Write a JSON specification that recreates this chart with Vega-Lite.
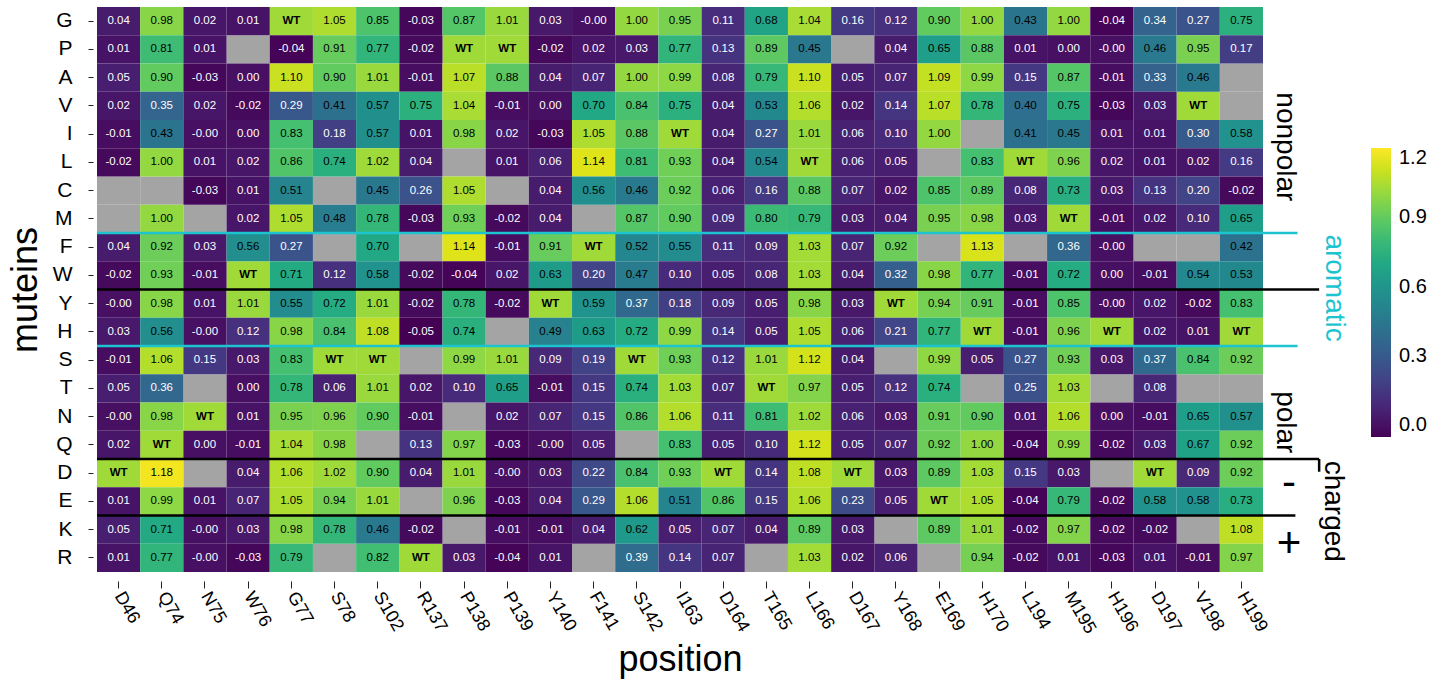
{
"$schema": "https://vega.github.io/schema/vega-lite/v6.json",
"autosize": "none",
"width": 1166,
"height": 565,
"padding": {"left": 97, "top": 7, "right": 179, "bottom": 109},
"background": "white",
"config": {"view": {"stroke": null}, "font": "Liberation Sans"},
"datasets": {
"cells": [
{"m":"G","p":"D46","v":0.04,"t":"0.04"},{"m":"G","p":"Q74","v":0.98,"t":"0.98"},{"m":"G","p":"N75","v":0.02,"t":"0.02"},{"m":"G","p":"W76","v":0.01,"t":"0.01"},{"m":"G","p":"G77","v":null,"t":"WT"},{"m":"G","p":"S78","v":1.05,"t":"1.05"},{"m":"G","p":"S102","v":0.85,"t":"0.85"},{"m":"G","p":"R137","v":-0.03,"t":"-0.03"},{"m":"G","p":"P138","v":0.87,"t":"0.87"},{"m":"G","p":"P139","v":1.01,"t":"1.01"},{"m":"G","p":"Y140","v":0.03,"t":"0.03"},{"m":"G","p":"F141","v":-0.0,"t":"-0.00"},{"m":"G","p":"S142","v":1.0,"t":"1.00"},{"m":"G","p":"I163","v":0.95,"t":"0.95"},{"m":"G","p":"D164","v":0.11,"t":"0.11"},{"m":"G","p":"T165","v":0.68,"t":"0.68"},{"m":"G","p":"L166","v":1.04,"t":"1.04"},{"m":"G","p":"D167","v":0.16,"t":"0.16"},{"m":"G","p":"Y168","v":0.12,"t":"0.12"},{"m":"G","p":"E169","v":0.9,"t":"0.90"},{"m":"G","p":"H170","v":1.0,"t":"1.00"},{"m":"G","p":"L194","v":0.43,"t":"0.43"},{"m":"G","p":"M195","v":1.0,"t":"1.00"},{"m":"G","p":"H196","v":-0.04,"t":"-0.04"},{"m":"G","p":"D197","v":0.34,"t":"0.34"},{"m":"G","p":"V198","v":0.27,"t":"0.27"},{"m":"G","p":"H199","v":0.75,"t":"0.75"},
{"m":"P","p":"D46","v":0.01,"t":"0.01"},{"m":"P","p":"Q74","v":0.81,"t":"0.81"},{"m":"P","p":"N75","v":0.01,"t":"0.01"},{"m":"P","p":"W76","v":null,"t":""},{"m":"P","p":"G77","v":-0.04,"t":"-0.04"},{"m":"P","p":"S78","v":0.91,"t":"0.91"},{"m":"P","p":"S102","v":0.77,"t":"0.77"},{"m":"P","p":"R137","v":-0.02,"t":"-0.02"},{"m":"P","p":"P138","v":null,"t":"WT"},{"m":"P","p":"P139","v":null,"t":"WT"},{"m":"P","p":"Y140","v":-0.02,"t":"-0.02"},{"m":"P","p":"F141","v":0.02,"t":"0.02"},{"m":"P","p":"S142","v":0.03,"t":"0.03"},{"m":"P","p":"I163","v":0.77,"t":"0.77"},{"m":"P","p":"D164","v":0.13,"t":"0.13"},{"m":"P","p":"T165","v":0.89,"t":"0.89"},{"m":"P","p":"L166","v":0.45,"t":"0.45"},{"m":"P","p":"D167","v":null,"t":""},{"m":"P","p":"Y168","v":0.04,"t":"0.04"},{"m":"P","p":"E169","v":0.65,"t":"0.65"},{"m":"P","p":"H170","v":0.88,"t":"0.88"},{"m":"P","p":"L194","v":0.01,"t":"0.01"},{"m":"P","p":"M195","v":0.0,"t":"0.00"},{"m":"P","p":"H196","v":-0.0,"t":"-0.00"},{"m":"P","p":"D197","v":0.46,"t":"0.46"},{"m":"P","p":"V198","v":0.95,"t":"0.95"},{"m":"P","p":"H199","v":0.17,"t":"0.17"},
{"m":"A","p":"D46","v":0.05,"t":"0.05"},{"m":"A","p":"Q74","v":0.9,"t":"0.90"},{"m":"A","p":"N75","v":-0.03,"t":"-0.03"},{"m":"A","p":"W76","v":0.0,"t":"0.00"},{"m":"A","p":"G77","v":1.1,"t":"1.10"},{"m":"A","p":"S78","v":0.9,"t":"0.90"},{"m":"A","p":"S102","v":1.01,"t":"1.01"},{"m":"A","p":"R137","v":-0.01,"t":"-0.01"},{"m":"A","p":"P138","v":1.07,"t":"1.07"},{"m":"A","p":"P139","v":0.88,"t":"0.88"},{"m":"A","p":"Y140","v":0.04,"t":"0.04"},{"m":"A","p":"F141","v":0.07,"t":"0.07"},{"m":"A","p":"S142","v":1.0,"t":"1.00"},{"m":"A","p":"I163","v":0.99,"t":"0.99"},{"m":"A","p":"D164","v":0.08,"t":"0.08"},{"m":"A","p":"T165","v":0.79,"t":"0.79"},{"m":"A","p":"L166","v":1.1,"t":"1.10"},{"m":"A","p":"D167","v":0.05,"t":"0.05"},{"m":"A","p":"Y168","v":0.07,"t":"0.07"},{"m":"A","p":"E169","v":1.09,"t":"1.09"},{"m":"A","p":"H170","v":0.99,"t":"0.99"},{"m":"A","p":"L194","v":0.15,"t":"0.15"},{"m":"A","p":"M195","v":0.87,"t":"0.87"},{"m":"A","p":"H196","v":-0.01,"t":"-0.01"},{"m":"A","p":"D197","v":0.33,"t":"0.33"},{"m":"A","p":"V198","v":0.46,"t":"0.46"},{"m":"A","p":"H199","v":null,"t":""},
{"m":"V","p":"D46","v":0.02,"t":"0.02"},{"m":"V","p":"Q74","v":0.35,"t":"0.35"},{"m":"V","p":"N75","v":0.02,"t":"0.02"},{"m":"V","p":"W76","v":-0.02,"t":"-0.02"},{"m":"V","p":"G77","v":0.29,"t":"0.29"},{"m":"V","p":"S78","v":0.41,"t":"0.41"},{"m":"V","p":"S102","v":0.57,"t":"0.57"},{"m":"V","p":"R137","v":0.75,"t":"0.75"},{"m":"V","p":"P138","v":1.04,"t":"1.04"},{"m":"V","p":"P139","v":-0.01,"t":"-0.01"},{"m":"V","p":"Y140","v":0.0,"t":"0.00"},{"m":"V","p":"F141","v":0.7,"t":"0.70"},{"m":"V","p":"S142","v":0.84,"t":"0.84"},{"m":"V","p":"I163","v":0.75,"t":"0.75"},{"m":"V","p":"D164","v":0.04,"t":"0.04"},{"m":"V","p":"T165","v":0.53,"t":"0.53"},{"m":"V","p":"L166","v":1.06,"t":"1.06"},{"m":"V","p":"D167","v":0.02,"t":"0.02"},{"m":"V","p":"Y168","v":0.14,"t":"0.14"},{"m":"V","p":"E169","v":1.07,"t":"1.07"},{"m":"V","p":"H170","v":0.78,"t":"0.78"},{"m":"V","p":"L194","v":0.4,"t":"0.40"},{"m":"V","p":"M195","v":0.75,"t":"0.75"},{"m":"V","p":"H196","v":-0.03,"t":"-0.03"},{"m":"V","p":"D197","v":0.03,"t":"0.03"},{"m":"V","p":"V198","v":null,"t":"WT"},{"m":"V","p":"H199","v":null,"t":""},
{"m":"I","p":"D46","v":-0.01,"t":"-0.01"},{"m":"I","p":"Q74","v":0.43,"t":"0.43"},{"m":"I","p":"N75","v":-0.0,"t":"-0.00"},{"m":"I","p":"W76","v":0.0,"t":"0.00"},{"m":"I","p":"G77","v":0.83,"t":"0.83"},{"m":"I","p":"S78","v":0.18,"t":"0.18"},{"m":"I","p":"S102","v":0.57,"t":"0.57"},{"m":"I","p":"R137","v":0.01,"t":"0.01"},{"m":"I","p":"P138","v":0.98,"t":"0.98"},{"m":"I","p":"P139","v":0.02,"t":"0.02"},{"m":"I","p":"Y140","v":-0.03,"t":"-0.03"},{"m":"I","p":"F141","v":1.05,"t":"1.05"},{"m":"I","p":"S142","v":0.88,"t":"0.88"},{"m":"I","p":"I163","v":null,"t":"WT"},{"m":"I","p":"D164","v":0.04,"t":"0.04"},{"m":"I","p":"T165","v":0.27,"t":"0.27"},{"m":"I","p":"L166","v":1.01,"t":"1.01"},{"m":"I","p":"D167","v":0.06,"t":"0.06"},{"m":"I","p":"Y168","v":0.1,"t":"0.10"},{"m":"I","p":"E169","v":1.0,"t":"1.00"},{"m":"I","p":"H170","v":null,"t":""},{"m":"I","p":"L194","v":0.41,"t":"0.41"},{"m":"I","p":"M195","v":0.45,"t":"0.45"},{"m":"I","p":"H196","v":0.01,"t":"0.01"},{"m":"I","p":"D197","v":0.01,"t":"0.01"},{"m":"I","p":"V198","v":0.3,"t":"0.30"},{"m":"I","p":"H199","v":0.58,"t":"0.58"},
{"m":"L","p":"D46","v":-0.02,"t":"-0.02"},{"m":"L","p":"Q74","v":1.0,"t":"1.00"},{"m":"L","p":"N75","v":0.01,"t":"0.01"},{"m":"L","p":"W76","v":0.02,"t":"0.02"},{"m":"L","p":"G77","v":0.86,"t":"0.86"},{"m":"L","p":"S78","v":0.74,"t":"0.74"},{"m":"L","p":"S102","v":1.02,"t":"1.02"},{"m":"L","p":"R137","v":0.04,"t":"0.04"},{"m":"L","p":"P138","v":null,"t":""},{"m":"L","p":"P139","v":0.01,"t":"0.01"},{"m":"L","p":"Y140","v":0.06,"t":"0.06"},{"m":"L","p":"F141","v":1.14,"t":"1.14"},{"m":"L","p":"S142","v":0.81,"t":"0.81"},{"m":"L","p":"I163","v":0.93,"t":"0.93"},{"m":"L","p":"D164","v":0.04,"t":"0.04"},{"m":"L","p":"T165","v":0.54,"t":"0.54"},{"m":"L","p":"L166","v":null,"t":"WT"},{"m":"L","p":"D167","v":0.06,"t":"0.06"},{"m":"L","p":"Y168","v":0.05,"t":"0.05"},{"m":"L","p":"E169","v":null,"t":""},{"m":"L","p":"H170","v":0.83,"t":"0.83"},{"m":"L","p":"L194","v":null,"t":"WT"},{"m":"L","p":"M195","v":0.96,"t":"0.96"},{"m":"L","p":"H196","v":0.02,"t":"0.02"},{"m":"L","p":"D197","v":0.01,"t":"0.01"},{"m":"L","p":"V198","v":0.02,"t":"0.02"},{"m":"L","p":"H199","v":0.16,"t":"0.16"},
{"m":"C","p":"D46","v":null,"t":""},{"m":"C","p":"Q74","v":null,"t":""},{"m":"C","p":"N75","v":-0.03,"t":"-0.03"},{"m":"C","p":"W76","v":0.01,"t":"0.01"},{"m":"C","p":"G77","v":0.51,"t":"0.51"},{"m":"C","p":"S78","v":null,"t":""},{"m":"C","p":"S102","v":0.45,"t":"0.45"},{"m":"C","p":"R137","v":0.26,"t":"0.26"},{"m":"C","p":"P138","v":1.05,"t":"1.05"},{"m":"C","p":"P139","v":null,"t":""},{"m":"C","p":"Y140","v":0.04,"t":"0.04"},{"m":"C","p":"F141","v":0.56,"t":"0.56"},{"m":"C","p":"S142","v":0.46,"t":"0.46"},{"m":"C","p":"I163","v":0.92,"t":"0.92"},{"m":"C","p":"D164","v":0.06,"t":"0.06"},{"m":"C","p":"T165","v":0.16,"t":"0.16"},{"m":"C","p":"L166","v":0.88,"t":"0.88"},{"m":"C","p":"D167","v":0.07,"t":"0.07"},{"m":"C","p":"Y168","v":0.02,"t":"0.02"},{"m":"C","p":"E169","v":0.85,"t":"0.85"},{"m":"C","p":"H170","v":0.89,"t":"0.89"},{"m":"C","p":"L194","v":0.08,"t":"0.08"},{"m":"C","p":"M195","v":0.73,"t":"0.73"},{"m":"C","p":"H196","v":0.03,"t":"0.03"},{"m":"C","p":"D197","v":0.13,"t":"0.13"},{"m":"C","p":"V198","v":0.2,"t":"0.20"},{"m":"C","p":"H199","v":-0.02,"t":"-0.02"},
{"m":"M","p":"D46","v":null,"t":""},{"m":"M","p":"Q74","v":1.0,"t":"1.00"},{"m":"M","p":"N75","v":null,"t":""},{"m":"M","p":"W76","v":0.02,"t":"0.02"},{"m":"M","p":"G77","v":1.05,"t":"1.05"},{"m":"M","p":"S78","v":0.48,"t":"0.48"},{"m":"M","p":"S102","v":0.78,"t":"0.78"},{"m":"M","p":"R137","v":-0.03,"t":"-0.03"},{"m":"M","p":"P138","v":0.93,"t":"0.93"},{"m":"M","p":"P139","v":-0.02,"t":"-0.02"},{"m":"M","p":"Y140","v":0.04,"t":"0.04"},{"m":"M","p":"F141","v":null,"t":""},{"m":"M","p":"S142","v":0.87,"t":"0.87"},{"m":"M","p":"I163","v":0.9,"t":"0.90"},{"m":"M","p":"D164","v":0.09,"t":"0.09"},{"m":"M","p":"T165","v":0.8,"t":"0.80"},{"m":"M","p":"L166","v":0.79,"t":"0.79"},{"m":"M","p":"D167","v":0.03,"t":"0.03"},{"m":"M","p":"Y168","v":0.04,"t":"0.04"},{"m":"M","p":"E169","v":0.95,"t":"0.95"},{"m":"M","p":"H170","v":0.98,"t":"0.98"},{"m":"M","p":"L194","v":0.03,"t":"0.03"},{"m":"M","p":"M195","v":null,"t":"WT"},{"m":"M","p":"H196","v":-0.01,"t":"-0.01"},{"m":"M","p":"D197","v":0.02,"t":"0.02"},{"m":"M","p":"V198","v":0.1,"t":"0.10"},{"m":"M","p":"H199","v":0.65,"t":"0.65"},
{"m":"F","p":"D46","v":0.04,"t":"0.04"},{"m":"F","p":"Q74","v":0.92,"t":"0.92"},{"m":"F","p":"N75","v":0.03,"t":"0.03"},{"m":"F","p":"W76","v":0.56,"t":"0.56"},{"m":"F","p":"G77","v":0.27,"t":"0.27"},{"m":"F","p":"S78","v":null,"t":""},{"m":"F","p":"S102","v":0.7,"t":"0.70"},{"m":"F","p":"R137","v":null,"t":""},{"m":"F","p":"P138","v":1.14,"t":"1.14"},{"m":"F","p":"P139","v":-0.01,"t":"-0.01"},{"m":"F","p":"Y140","v":0.91,"t":"0.91"},{"m":"F","p":"F141","v":null,"t":"WT"},{"m":"F","p":"S142","v":0.52,"t":"0.52"},{"m":"F","p":"I163","v":0.55,"t":"0.55"},{"m":"F","p":"D164","v":0.11,"t":"0.11"},{"m":"F","p":"T165","v":0.09,"t":"0.09"},{"m":"F","p":"L166","v":1.03,"t":"1.03"},{"m":"F","p":"D167","v":0.07,"t":"0.07"},{"m":"F","p":"Y168","v":0.92,"t":"0.92"},{"m":"F","p":"E169","v":null,"t":""},{"m":"F","p":"H170","v":1.13,"t":"1.13"},{"m":"F","p":"L194","v":null,"t":""},{"m":"F","p":"M195","v":0.36,"t":"0.36"},{"m":"F","p":"H196","v":-0.0,"t":"-0.00"},{"m":"F","p":"D197","v":null,"t":""},{"m":"F","p":"V198","v":null,"t":""},{"m":"F","p":"H199","v":0.42,"t":"0.42"},
{"m":"W","p":"D46","v":-0.02,"t":"-0.02"},{"m":"W","p":"Q74","v":0.93,"t":"0.93"},{"m":"W","p":"N75","v":-0.01,"t":"-0.01"},{"m":"W","p":"W76","v":null,"t":"WT"},{"m":"W","p":"G77","v":0.71,"t":"0.71"},{"m":"W","p":"S78","v":0.12,"t":"0.12"},{"m":"W","p":"S102","v":0.58,"t":"0.58"},{"m":"W","p":"R137","v":-0.02,"t":"-0.02"},{"m":"W","p":"P138","v":-0.04,"t":"-0.04"},{"m":"W","p":"P139","v":0.02,"t":"0.02"},{"m":"W","p":"Y140","v":0.63,"t":"0.63"},{"m":"W","p":"F141","v":0.2,"t":"0.20"},{"m":"W","p":"S142","v":0.47,"t":"0.47"},{"m":"W","p":"I163","v":0.1,"t":"0.10"},{"m":"W","p":"D164","v":0.05,"t":"0.05"},{"m":"W","p":"T165","v":0.08,"t":"0.08"},{"m":"W","p":"L166","v":1.03,"t":"1.03"},{"m":"W","p":"D167","v":0.04,"t":"0.04"},{"m":"W","p":"Y168","v":0.32,"t":"0.32"},{"m":"W","p":"E169","v":0.98,"t":"0.98"},{"m":"W","p":"H170","v":0.77,"t":"0.77"},{"m":"W","p":"L194","v":-0.01,"t":"-0.01"},{"m":"W","p":"M195","v":0.72,"t":"0.72"},{"m":"W","p":"H196","v":0.0,"t":"0.00"},{"m":"W","p":"D197","v":-0.01,"t":"-0.01"},{"m":"W","p":"V198","v":0.54,"t":"0.54"},{"m":"W","p":"H199","v":0.53,"t":"0.53"},
{"m":"Y","p":"D46","v":-0.0,"t":"-0.00"},{"m":"Y","p":"Q74","v":0.98,"t":"0.98"},{"m":"Y","p":"N75","v":0.01,"t":"0.01"},{"m":"Y","p":"W76","v":1.01,"t":"1.01"},{"m":"Y","p":"G77","v":0.55,"t":"0.55"},{"m":"Y","p":"S78","v":0.72,"t":"0.72"},{"m":"Y","p":"S102","v":1.01,"t":"1.01"},{"m":"Y","p":"R137","v":-0.02,"t":"-0.02"},{"m":"Y","p":"P138","v":0.78,"t":"0.78"},{"m":"Y","p":"P139","v":-0.02,"t":"-0.02"},{"m":"Y","p":"Y140","v":null,"t":"WT"},{"m":"Y","p":"F141","v":0.59,"t":"0.59"},{"m":"Y","p":"S142","v":0.37,"t":"0.37"},{"m":"Y","p":"I163","v":0.18,"t":"0.18"},{"m":"Y","p":"D164","v":0.09,"t":"0.09"},{"m":"Y","p":"T165","v":0.05,"t":"0.05"},{"m":"Y","p":"L166","v":0.98,"t":"0.98"},{"m":"Y","p":"D167","v":0.03,"t":"0.03"},{"m":"Y","p":"Y168","v":null,"t":"WT"},{"m":"Y","p":"E169","v":0.94,"t":"0.94"},{"m":"Y","p":"H170","v":0.91,"t":"0.91"},{"m":"Y","p":"L194","v":-0.01,"t":"-0.01"},{"m":"Y","p":"M195","v":0.85,"t":"0.85"},{"m":"Y","p":"H196","v":-0.0,"t":"-0.00"},{"m":"Y","p":"D197","v":0.02,"t":"0.02"},{"m":"Y","p":"V198","v":-0.02,"t":"-0.02"},{"m":"Y","p":"H199","v":0.83,"t":"0.83"},
{"m":"H","p":"D46","v":0.03,"t":"0.03"},{"m":"H","p":"Q74","v":0.56,"t":"0.56"},{"m":"H","p":"N75","v":-0.0,"t":"-0.00"},{"m":"H","p":"W76","v":0.12,"t":"0.12"},{"m":"H","p":"G77","v":0.98,"t":"0.98"},{"m":"H","p":"S78","v":0.84,"t":"0.84"},{"m":"H","p":"S102","v":1.08,"t":"1.08"},{"m":"H","p":"R137","v":-0.05,"t":"-0.05"},{"m":"H","p":"P138","v":0.74,"t":"0.74"},{"m":"H","p":"P139","v":null,"t":""},{"m":"H","p":"Y140","v":0.49,"t":"0.49"},{"m":"H","p":"F141","v":0.63,"t":"0.63"},{"m":"H","p":"S142","v":0.72,"t":"0.72"},{"m":"H","p":"I163","v":0.99,"t":"0.99"},{"m":"H","p":"D164","v":0.14,"t":"0.14"},{"m":"H","p":"T165","v":0.05,"t":"0.05"},{"m":"H","p":"L166","v":1.05,"t":"1.05"},{"m":"H","p":"D167","v":0.06,"t":"0.06"},{"m":"H","p":"Y168","v":0.21,"t":"0.21"},{"m":"H","p":"E169","v":0.77,"t":"0.77"},{"m":"H","p":"H170","v":null,"t":"WT"},{"m":"H","p":"L194","v":-0.01,"t":"-0.01"},{"m":"H","p":"M195","v":0.96,"t":"0.96"},{"m":"H","p":"H196","v":null,"t":"WT"},{"m":"H","p":"D197","v":0.02,"t":"0.02"},{"m":"H","p":"V198","v":0.01,"t":"0.01"},{"m":"H","p":"H199","v":null,"t":"WT"},
{"m":"S","p":"D46","v":-0.01,"t":"-0.01"},{"m":"S","p":"Q74","v":1.06,"t":"1.06"},{"m":"S","p":"N75","v":0.15,"t":"0.15"},{"m":"S","p":"W76","v":0.03,"t":"0.03"},{"m":"S","p":"G77","v":0.83,"t":"0.83"},{"m":"S","p":"S78","v":null,"t":"WT"},{"m":"S","p":"S102","v":null,"t":"WT"},{"m":"S","p":"R137","v":null,"t":""},{"m":"S","p":"P138","v":0.99,"t":"0.99"},{"m":"S","p":"P139","v":1.01,"t":"1.01"},{"m":"S","p":"Y140","v":0.09,"t":"0.09"},{"m":"S","p":"F141","v":0.19,"t":"0.19"},{"m":"S","p":"S142","v":null,"t":"WT"},{"m":"S","p":"I163","v":0.93,"t":"0.93"},{"m":"S","p":"D164","v":0.12,"t":"0.12"},{"m":"S","p":"T165","v":1.01,"t":"1.01"},{"m":"S","p":"L166","v":1.12,"t":"1.12"},{"m":"S","p":"D167","v":0.04,"t":"0.04"},{"m":"S","p":"Y168","v":null,"t":""},{"m":"S","p":"E169","v":0.99,"t":"0.99"},{"m":"S","p":"H170","v":0.05,"t":"0.05"},{"m":"S","p":"L194","v":0.27,"t":"0.27"},{"m":"S","p":"M195","v":0.93,"t":"0.93"},{"m":"S","p":"H196","v":0.03,"t":"0.03"},{"m":"S","p":"D197","v":0.37,"t":"0.37"},{"m":"S","p":"V198","v":0.84,"t":"0.84"},{"m":"S","p":"H199","v":0.92,"t":"0.92"},
{"m":"T","p":"D46","v":0.05,"t":"0.05"},{"m":"T","p":"Q74","v":0.36,"t":"0.36"},{"m":"T","p":"N75","v":null,"t":""},{"m":"T","p":"W76","v":0.0,"t":"0.00"},{"m":"T","p":"G77","v":0.78,"t":"0.78"},{"m":"T","p":"S78","v":0.06,"t":"0.06"},{"m":"T","p":"S102","v":1.01,"t":"1.01"},{"m":"T","p":"R137","v":0.02,"t":"0.02"},{"m":"T","p":"P138","v":0.1,"t":"0.10"},{"m":"T","p":"P139","v":0.65,"t":"0.65"},{"m":"T","p":"Y140","v":-0.01,"t":"-0.01"},{"m":"T","p":"F141","v":0.15,"t":"0.15"},{"m":"T","p":"S142","v":0.74,"t":"0.74"},{"m":"T","p":"I163","v":1.03,"t":"1.03"},{"m":"T","p":"D164","v":0.07,"t":"0.07"},{"m":"T","p":"T165","v":null,"t":"WT"},{"m":"T","p":"L166","v":0.97,"t":"0.97"},{"m":"T","p":"D167","v":0.05,"t":"0.05"},{"m":"T","p":"Y168","v":0.12,"t":"0.12"},{"m":"T","p":"E169","v":0.74,"t":"0.74"},{"m":"T","p":"H170","v":null,"t":""},{"m":"T","p":"L194","v":0.25,"t":"0.25"},{"m":"T","p":"M195","v":1.03,"t":"1.03"},{"m":"T","p":"H196","v":null,"t":""},{"m":"T","p":"D197","v":0.08,"t":"0.08"},{"m":"T","p":"V198","v":null,"t":""},{"m":"T","p":"H199","v":null,"t":""},
{"m":"N","p":"D46","v":-0.0,"t":"-0.00"},{"m":"N","p":"Q74","v":0.98,"t":"0.98"},{"m":"N","p":"N75","v":null,"t":"WT"},{"m":"N","p":"W76","v":0.01,"t":"0.01"},{"m":"N","p":"G77","v":0.95,"t":"0.95"},{"m":"N","p":"S78","v":0.96,"t":"0.96"},{"m":"N","p":"S102","v":0.9,"t":"0.90"},{"m":"N","p":"R137","v":-0.01,"t":"-0.01"},{"m":"N","p":"P138","v":null,"t":""},{"m":"N","p":"P139","v":0.02,"t":"0.02"},{"m":"N","p":"Y140","v":0.07,"t":"0.07"},{"m":"N","p":"F141","v":0.15,"t":"0.15"},{"m":"N","p":"S142","v":0.86,"t":"0.86"},{"m":"N","p":"I163","v":1.06,"t":"1.06"},{"m":"N","p":"D164","v":0.11,"t":"0.11"},{"m":"N","p":"T165","v":0.81,"t":"0.81"},{"m":"N","p":"L166","v":1.02,"t":"1.02"},{"m":"N","p":"D167","v":0.06,"t":"0.06"},{"m":"N","p":"Y168","v":0.03,"t":"0.03"},{"m":"N","p":"E169","v":0.91,"t":"0.91"},{"m":"N","p":"H170","v":0.9,"t":"0.90"},{"m":"N","p":"L194","v":0.01,"t":"0.01"},{"m":"N","p":"M195","v":1.06,"t":"1.06"},{"m":"N","p":"H196","v":0.0,"t":"0.00"},{"m":"N","p":"D197","v":-0.01,"t":"-0.01"},{"m":"N","p":"V198","v":0.65,"t":"0.65"},{"m":"N","p":"H199","v":0.57,"t":"0.57"},
{"m":"Q","p":"D46","v":0.02,"t":"0.02"},{"m":"Q","p":"Q74","v":null,"t":"WT"},{"m":"Q","p":"N75","v":0.0,"t":"0.00"},{"m":"Q","p":"W76","v":-0.01,"t":"-0.01"},{"m":"Q","p":"G77","v":1.04,"t":"1.04"},{"m":"Q","p":"S78","v":0.98,"t":"0.98"},{"m":"Q","p":"S102","v":null,"t":""},{"m":"Q","p":"R137","v":0.13,"t":"0.13"},{"m":"Q","p":"P138","v":0.97,"t":"0.97"},{"m":"Q","p":"P139","v":-0.03,"t":"-0.03"},{"m":"Q","p":"Y140","v":-0.0,"t":"-0.00"},{"m":"Q","p":"F141","v":0.05,"t":"0.05"},{"m":"Q","p":"S142","v":null,"t":""},{"m":"Q","p":"I163","v":0.83,"t":"0.83"},{"m":"Q","p":"D164","v":0.05,"t":"0.05"},{"m":"Q","p":"T165","v":0.1,"t":"0.10"},{"m":"Q","p":"L166","v":1.12,"t":"1.12"},{"m":"Q","p":"D167","v":0.05,"t":"0.05"},{"m":"Q","p":"Y168","v":0.07,"t":"0.07"},{"m":"Q","p":"E169","v":0.92,"t":"0.92"},{"m":"Q","p":"H170","v":1.0,"t":"1.00"},{"m":"Q","p":"L194","v":-0.04,"t":"-0.04"},{"m":"Q","p":"M195","v":0.99,"t":"0.99"},{"m":"Q","p":"H196","v":-0.02,"t":"-0.02"},{"m":"Q","p":"D197","v":0.03,"t":"0.03"},{"m":"Q","p":"V198","v":0.67,"t":"0.67"},{"m":"Q","p":"H199","v":0.92,"t":"0.92"},
{"m":"D","p":"D46","v":null,"t":"WT"},{"m":"D","p":"Q74","v":1.18,"t":"1.18"},{"m":"D","p":"N75","v":null,"t":""},{"m":"D","p":"W76","v":0.04,"t":"0.04"},{"m":"D","p":"G77","v":1.06,"t":"1.06"},{"m":"D","p":"S78","v":1.02,"t":"1.02"},{"m":"D","p":"S102","v":0.9,"t":"0.90"},{"m":"D","p":"R137","v":0.04,"t":"0.04"},{"m":"D","p":"P138","v":1.01,"t":"1.01"},{"m":"D","p":"P139","v":-0.0,"t":"-0.00"},{"m":"D","p":"Y140","v":0.03,"t":"0.03"},{"m":"D","p":"F141","v":0.22,"t":"0.22"},{"m":"D","p":"S142","v":0.84,"t":"0.84"},{"m":"D","p":"I163","v":0.93,"t":"0.93"},{"m":"D","p":"D164","v":null,"t":"WT"},{"m":"D","p":"T165","v":0.14,"t":"0.14"},{"m":"D","p":"L166","v":1.08,"t":"1.08"},{"m":"D","p":"D167","v":null,"t":"WT"},{"m":"D","p":"Y168","v":0.03,"t":"0.03"},{"m":"D","p":"E169","v":0.89,"t":"0.89"},{"m":"D","p":"H170","v":1.03,"t":"1.03"},{"m":"D","p":"L194","v":0.15,"t":"0.15"},{"m":"D","p":"M195","v":0.03,"t":"0.03"},{"m":"D","p":"H196","v":null,"t":""},{"m":"D","p":"D197","v":null,"t":"WT"},{"m":"D","p":"V198","v":0.09,"t":"0.09"},{"m":"D","p":"H199","v":0.92,"t":"0.92"},
{"m":"E","p":"D46","v":0.01,"t":"0.01"},{"m":"E","p":"Q74","v":0.99,"t":"0.99"},{"m":"E","p":"N75","v":0.01,"t":"0.01"},{"m":"E","p":"W76","v":0.07,"t":"0.07"},{"m":"E","p":"G77","v":1.05,"t":"1.05"},{"m":"E","p":"S78","v":0.94,"t":"0.94"},{"m":"E","p":"S102","v":1.01,"t":"1.01"},{"m":"E","p":"R137","v":null,"t":""},{"m":"E","p":"P138","v":0.96,"t":"0.96"},{"m":"E","p":"P139","v":-0.03,"t":"-0.03"},{"m":"E","p":"Y140","v":0.04,"t":"0.04"},{"m":"E","p":"F141","v":0.29,"t":"0.29"},{"m":"E","p":"S142","v":1.06,"t":"1.06"},{"m":"E","p":"I163","v":0.51,"t":"0.51"},{"m":"E","p":"D164","v":0.86,"t":"0.86"},{"m":"E","p":"T165","v":0.15,"t":"0.15"},{"m":"E","p":"L166","v":1.06,"t":"1.06"},{"m":"E","p":"D167","v":0.23,"t":"0.23"},{"m":"E","p":"Y168","v":0.05,"t":"0.05"},{"m":"E","p":"E169","v":null,"t":"WT"},{"m":"E","p":"H170","v":1.05,"t":"1.05"},{"m":"E","p":"L194","v":-0.04,"t":"-0.04"},{"m":"E","p":"M195","v":0.79,"t":"0.79"},{"m":"E","p":"H196","v":-0.02,"t":"-0.02"},{"m":"E","p":"D197","v":0.58,"t":"0.58"},{"m":"E","p":"V198","v":0.58,"t":"0.58"},{"m":"E","p":"H199","v":0.73,"t":"0.73"},
{"m":"K","p":"D46","v":0.05,"t":"0.05"},{"m":"K","p":"Q74","v":0.71,"t":"0.71"},{"m":"K","p":"N75","v":-0.0,"t":"-0.00"},{"m":"K","p":"W76","v":0.03,"t":"0.03"},{"m":"K","p":"G77","v":0.98,"t":"0.98"},{"m":"K","p":"S78","v":0.78,"t":"0.78"},{"m":"K","p":"S102","v":0.46,"t":"0.46"},{"m":"K","p":"R137","v":-0.02,"t":"-0.02"},{"m":"K","p":"P138","v":null,"t":""},{"m":"K","p":"P139","v":-0.01,"t":"-0.01"},{"m":"K","p":"Y140","v":-0.01,"t":"-0.01"},{"m":"K","p":"F141","v":0.04,"t":"0.04"},{"m":"K","p":"S142","v":0.62,"t":"0.62"},{"m":"K","p":"I163","v":0.05,"t":"0.05"},{"m":"K","p":"D164","v":0.07,"t":"0.07"},{"m":"K","p":"T165","v":0.04,"t":"0.04"},{"m":"K","p":"L166","v":0.89,"t":"0.89"},{"m":"K","p":"D167","v":0.03,"t":"0.03"},{"m":"K","p":"Y168","v":null,"t":""},{"m":"K","p":"E169","v":0.89,"t":"0.89"},{"m":"K","p":"H170","v":1.01,"t":"1.01"},{"m":"K","p":"L194","v":-0.02,"t":"-0.02"},{"m":"K","p":"M195","v":0.97,"t":"0.97"},{"m":"K","p":"H196","v":-0.02,"t":"-0.02"},{"m":"K","p":"D197","v":-0.02,"t":"-0.02"},{"m":"K","p":"V198","v":null,"t":""},{"m":"K","p":"H199","v":1.08,"t":"1.08"},
{"m":"R","p":"D46","v":0.01,"t":"0.01"},{"m":"R","p":"Q74","v":0.77,"t":"0.77"},{"m":"R","p":"N75","v":-0.0,"t":"-0.00"},{"m":"R","p":"W76","v":-0.03,"t":"-0.03"},{"m":"R","p":"G77","v":0.79,"t":"0.79"},{"m":"R","p":"S78","v":null,"t":""},{"m":"R","p":"S102","v":0.82,"t":"0.82"},{"m":"R","p":"R137","v":null,"t":"WT"},{"m":"R","p":"P138","v":0.03,"t":"0.03"},{"m":"R","p":"P139","v":-0.04,"t":"-0.04"},{"m":"R","p":"Y140","v":0.01,"t":"0.01"},{"m":"R","p":"F141","v":null,"t":""},{"m":"R","p":"S142","v":0.39,"t":"0.39"},{"m":"R","p":"I163","v":0.14,"t":"0.14"},{"m":"R","p":"D164","v":0.07,"t":"0.07"},{"m":"R","p":"T165","v":null,"t":""},{"m":"R","p":"L166","v":1.03,"t":"1.03"},{"m":"R","p":"D167","v":0.02,"t":"0.02"},{"m":"R","p":"Y168","v":0.06,"t":"0.06"},{"m":"R","p":"E169","v":null,"t":""},{"m":"R","p":"H170","v":0.94,"t":"0.94"},{"m":"R","p":"L194","v":-0.02,"t":"-0.02"},{"m":"R","p":"M195","v":0.01,"t":"0.01"},{"m":"R","p":"H196","v":-0.03,"t":"-0.03"},{"m":"R","p":"D197","v":0.01,"t":"0.01"},{"m":"R","p":"V198","v":-0.01,"t":"-0.01"},{"m":"R","p":"H199","v":0.97,"t":"0.97"}
],
"seps": [
{"k":"aromatic","x":0,"x2":27.8,"y":8,"y2":8},
{"k":"class","x":0,"x2":28.3,"y":10,"y2":10},
{"k":"aromatic","x":0,"x2":27.8,"y":12,"y2":12},
{"k":"class","x":0,"x2":28.3,"y":16,"y2":16},
{"k":"class","x":0,"x2":27.75,"y":18,"y2":18},
{"k":"class","x":28.3,"x2":28.3,"y":16,"y2":16.45}
],
"groups": [
{"txt":"nonpolar","k":"class","x":27.5,"y":4.95},
{"txt":"aromatic","k":"aromatic","x":28.65,"y":9.95},
{"txt":"polar","k":"class","x":27.5,"y":14.7},
{"txt":"charged","k":"class","x":28.62,"y":17.85},
{"txt":"-","k":"sign","x":27.6,"y":16.85},
{"txt":"+","k":"sign","x":27.6,"y":19.0}
]
},
"layer": [
{
"data": {"name": "cells"},
"encoding": {
"x": {"field": "p", "type": "nominal", "sort": ["D46","Q74","N75","W76","G77","S78","S102","R137","P138","P139","Y140","F141","S142","I163","D164","T165","L166","D167","Y168","E169","H170","L194","M195","H196","D197","V198","H199"], "scale": {"paddingInner": 0, "paddingOuter": 0},
 "axis": {"title": "position", "titleFontSize": 36, "titleFontWeight": "normal", "titleColor": "black", "titlePadding": 6, "labelAngle": 60, "labelFontSize": 18, "labelColor": "black", "labelAlign": "left", "labelBaseline": "middle", "labelPadding": 5, "tickSize": 7, "tickColor": "#222", "offset": 9, "domain": false}},
"y": {"field": "m", "type": "nominal", "sort": ["G","P","A","V","I","L","C","M","F","W","Y","H","S","T","N","Q","D","E","K","R"], "scale": {"paddingInner": 0, "paddingOuter": 0},
 "axis": {"title": "muteins", "titleFontSize": 36, "titleFontWeight": "normal", "titleColor": "black", "titlePadding": 8, "labelFontSize": 21, "labelColor": "black", "labelPadding": 16, "tickSize": 5, "tickColor": "#222", "offset": 4, "domain": false}}
},
"layer": [
{"transform": [{"filter": "datum.v === null"}], "mark": {"type": "rect"},
 "encoding": {"color": {"condition": {"test": "datum.t === 'WT'", "value": "#a0da39"}, "value": "#a4a4a4"}}},
{"transform": [{"filter": "datum.v !== null"}], "mark": {"type": "rect"},
 "encoding": {"color": {"field": "v", "type": "quantitative", "scale": {"scheme": "viridis", "domain": [-0.05, 1.2]},
  "legend": {"orient": "none", "legendX": 1274, "legendY": 141, "direction": "vertical", "gradientLength": 289, "gradientThickness": 20, "title": null, "labelFontSize": 20, "labelColor": "black", "values": [0, 0.3, 0.6, 0.9, 1.2], "format": ".1f", "labelOffset": 8, "gradientStrokeWidth": 0}}}},
{"transform": [{"filter": "datum.v !== null"}], "mark": {"type": "text", "fontSize": 11.5},
 "encoding": {"text": {"field": "t"}, "color": {"condition": {"test": "datum.v < 0.4", "value": "white"}, "value": "black"}}},
{"transform": [{"filter": "datum.t === 'WT'"}], "mark": {"type": "text", "fontSize": 11.5, "fontWeight": "bold", "color": "black"},
 "encoding": {"text": {"field": "t"}}}
]
},
{
"encoding": {
"x": {"field": "x", "type": "quantitative", "scale": {"domain": [0, 27], "nice": false, "zero": false}, "axis": null},
"y": {"field": "y", "type": "quantitative", "scale": {"domain": [0, 20], "nice": false, "zero": false, "reverse": true}, "axis": null}
},
"layer": [
{"data": {"name": "seps"}, "transform": [{"filter": "datum.k === 'aromatic'"}], "mark": {"type": "rule", "color": "#1cc4d0", "strokeWidth": 2.5},
 "encoding": {"x2": {"field": "x2"}, "y2": {"field": "y2"}}},
{"data": {"name": "seps"}, "transform": [{"filter": "datum.k === 'class'"}], "mark": {"type": "rule", "color": "black", "strokeWidth": 2.5},
 "encoding": {"x2": {"field": "x2"}, "y2": {"field": "y2"}}},
{"data": {"name": "groups"}, "transform": [{"filter": "datum.k === 'class'"}], "mark": {"type": "text", "angle": 90, "fontSize": 28, "color": "black", "align": "center", "baseline": "middle"},
 "encoding": {"text": {"field": "txt"}}},
{"data": {"name": "groups"}, "transform": [{"filter": "datum.k === 'aromatic'"}], "mark": {"type": "text", "angle": 90, "fontSize": 28, "color": "#1cc4d0", "align": "center", "baseline": "middle"},
 "encoding": {"text": {"field": "txt"}}},
{"data": {"name": "groups"}, "transform": [{"filter": "datum.k === 'sign'"}], "mark": {"type": "text", "fontSize": 42, "color": "black", "align": "center", "baseline": "middle"},
 "encoding": {"text": {"field": "txt"}}}
]
}
],
"resolve": {"scale": {"x": "independent", "y": "independent", "color": "independent"}}
}
